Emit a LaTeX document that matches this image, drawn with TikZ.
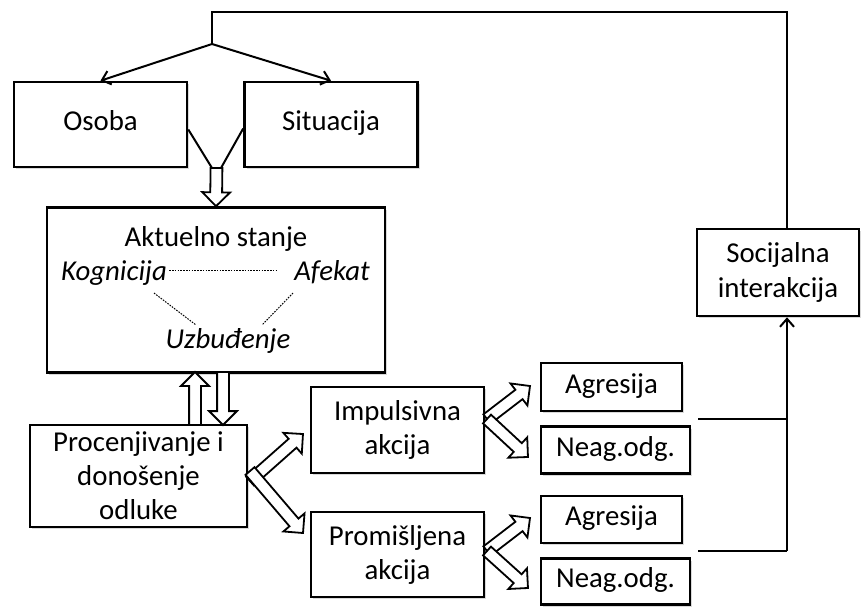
\documentclass[tikz,border=0pt]{standalone}
\usepackage{fontspec}
\setmainfont{Carlito}
\usetikzlibrary{calc,shapes.arrows,shadows,arrows.meta}
\tikzstyle{box}=[draw=black, line width=1.3pt, fill=white, align=center, inner sep=2pt,
  drop shadow={shadow xshift=1pt, shadow yshift=-1pt, opacity=.3}]
\tikzstyle{jedan}=[text height=.8em, text depth=.2em]
\tikzstyle{txt}=[inner sep=1pt, text height=.8em, text depth=.2em]
\tikzstyle{kurziv}=[inner sep=1pt, text height=.8em, text depth=.2em,
  font=\fontsize{14.4}{17}\selectfont\itshape]
\tikzstyle{hollow}=[single arrow, draw=black, fill=white, line width=.9pt, inner xsep=0pt,
  inner ysep=2.5pt, single arrow head extend=4pt, single arrow tip angle=90, outer sep=0pt, anchor=tail]
\tikzstyle{veza}=[line width=1pt]
\tikzstyle{tacke}=[line width=.5pt, dash pattern=on .8pt off .6pt]

\begin{document}
\begin{tikzpicture}[x=.5pt, y=-.5pt, font=\fontsize{14.4}{17}\selectfont]
    \useasboundingbox (0,0) rectangle (862,606);
    \node[box, jedan, minimum width=86.5pt, minimum height=42.5pt] (osoba) at (100.5,124.5) {Osoba};
    \node[box, jedan, minimum width=86.5pt, minimum height=42.5pt] (situacija) at (331,124.5) {Situacija};
    \node[box, minimum width=169pt, minimum height=82.5pt] (stanje) at (216,290) {};
    \node[txt] (naslov) at (216,240) {Aktuelno stanje};
    \node[kurziv] (kog) at (114,274) {Kognicija};
    \node[kurziv] (afe) at (332,274) {Afekat};
    \node[kurziv] (uzb) at (228,342) {Uzbuđenje};
    \node[box, minimum width=108.5pt, minimum height=51pt] (odluka) at (138.5,476)
      {Procenjivanje i\\donošenje\\odluke};
    \node[box, minimum width=86.5pt, minimum height=43pt] (impuls) at (397.5,430) {Impulsivna\\akcija};
    \node[box, minimum width=86.5pt, minimum height=42.5pt] (promis) at (397.5,554.5) {Promišljena\\akcija};
    \node[box, jedan, minimum width=70.5pt, minimum height=24pt] (agr1) at (611.5,387) {Agresija};
    \node[box, jedan, minimum width=74.5pt, minimum height=23.5pt] (neag1) at (615.5,450) {Neag.odg.};
    \node[box, jedan, minimum width=70.5pt, minimum height=23.5pt] (agr2) at (611.5,519.5) {Agresija};
    \node[box, jedan, minimum width=74.5pt, minimum height=23pt] (neag2) at (615.5,581.5) {Neag.odg.};
    \node[box, minimum width=81pt, minimum height=43.5pt, font=\fontsize{14.4}{17.5}\selectfont]
      (socijal) at (778,272.5) {Socijalna\\interakcija};

    \coordinate (vrh) at (212,12);
    \coordinate (grana) at (212,44);
    \coordinate (spojL) at (212,168);
    \coordinate (spojD) at (221,168);
    \coordinate (spoj) at (216.5,168);
    \coordinate (g1) at (195,425);
    \coordinate (g2) at (195,372);
    \coordinate (d1) at (223,372);
    \coordinate (d2) at (223,425);
    \coordinate (o1) at (250,481);
    \coordinate (o2) at (250,471);
    \coordinate (i1) at (303,434);
    \coordinate (p1) at (303,533);
    \coordinate (a1) at (487,419);
    \coordinate (a2) at (530,386);
    \coordinate (a3) at (528,457);
    \coordinate (b1) at (487,551);
    \coordinate (b2) at (530,518);
    \coordinate (b3) at (528,588);
    \coordinate (s1) at (698,419);
    \coordinate (s2) at (698,551);
    \coordinate (k1) at (787,419);
    \coordinate (k2) at (787,551);
    \coordinate (t1) at (278,270);
    \coordinate (t2) at (154,293);
    \coordinate (t3) at (196,325);
    \coordinate (t4) at (293,293);
    \coordinate (t5) at (262,325);

    % dotted triangle inside the state box
    \draw[tacke] (kog.east |- t1) -- (t1);
    \draw[tacke] (t2) -- (t3);
    \draw[tacke] (t4) -- (t5);

    \draw[veza] (socijal.north -| k2) |- (vrh) -- (grana);
    \foreach \to in {osoba, situacija}
      \draw[veza, -{Straight Barb[length=4pt, width=7pt]}] (grana) -- (\to.north);
    \draw[veza] ([yshift=-2.5pt]osoba.east) -- (spojL);
    \draw[veza] ([yshift=-2pt]situacija.west) -- (spojD);
    \draw[veza] (s1) -- (k1);
    \draw[veza] (s2) -- (k2);
    \draw[veza, -{Straight Barb[length=4pt, width=7pt]}] (k2) -- (socijal.south -| k2);

    \foreach \from/\to [count=\i] in {spoj/stanje.north, g1/g2, d1/d2, o1/i1, o2/p1,
          a1/a2, a1/a3, b1/b2, b1/b3}
      \path let \p1=(\from), \p2=(\to), \n1={atan2(\y2-\y1,\x2-\x1)},
        \n2={veclen(\x2-\x1,\y2-\y1)} in
        node[hollow, minimum height=\n2, rotate=\n1] (ha\i) at (\p1) {};
\end{tikzpicture}
\end{document}
